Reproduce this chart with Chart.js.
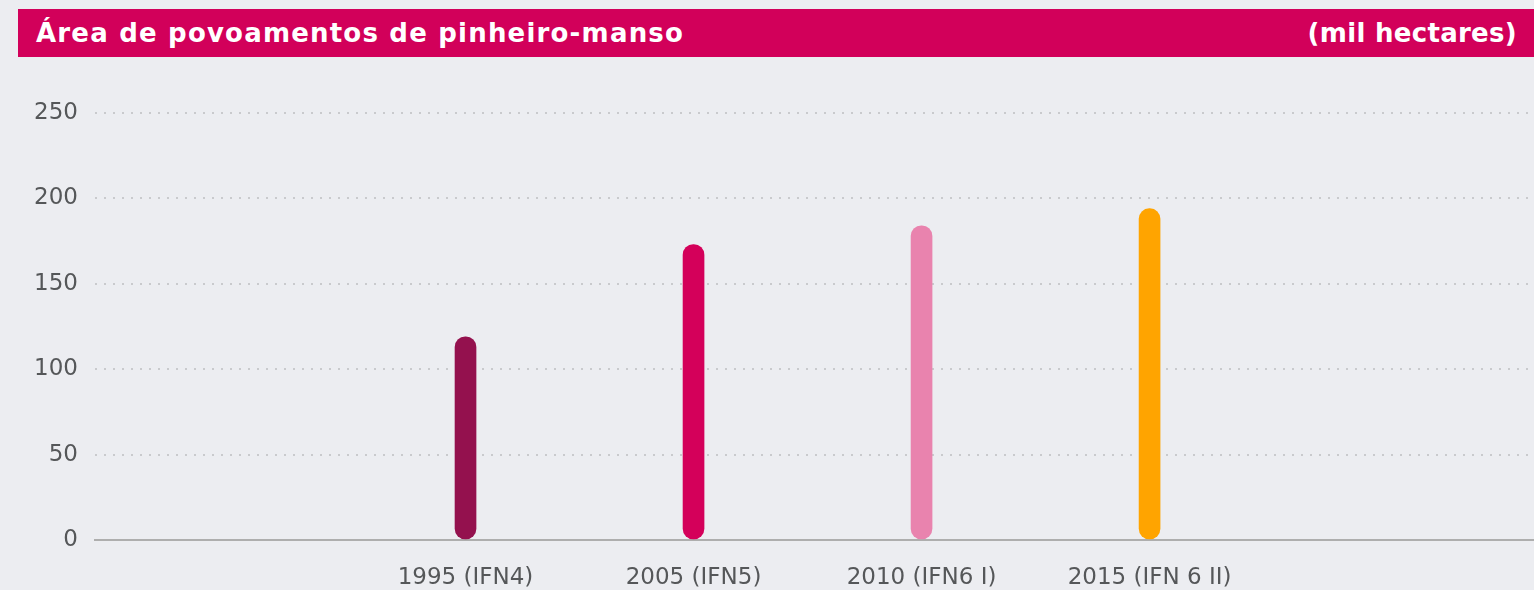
<!DOCTYPE html>
<html lang="pt">
<head>
<meta charset="utf-8">
<script src="https://cdn.jsdelivr.net/npm/chart.js@4.4.1/dist/chart.umd.min.js"></script>
<style>
  html, body { margin: 0; padding: 0; background: #ecedf1; }
  body { width: 1534px; height: 590px; position: relative; overflow: hidden; font-family: "DejaVu Sans", sans-serif; }
  .header {
    position: absolute; left: 18px; top: 9px; width: 1516px; height: 48px;
    background: #d2005a; color: #fff; font-weight: 700; font-size: 26px;
    box-sizing: border-box; padding: 0 17px 0 18px;
    display: flex; justify-content: space-between; align-items: center;
  }
  .header .title { letter-spacing: 1.2px; }
  .header .unit { letter-spacing: 0.3px; }
  #wrap { position: absolute; left: 0; top: 0; width: 1534px; height: 590px; }
</style>
</head>
<body>
<div class="header"><span class="title">Área de povoamentos de pinheiro-manso</span><span class="unit">(mil hectares)</span></div>
<div id="wrap"><canvas id="chart"></canvas></div>
<script>
const categories = ['1995 (IFN4)', '2005 (IFN5)', '2010 (IFN6 I)', '2015 (IFN 6 II)'];
const values = [119, 173, 184, 194];
const barColors = ['#94114e', '#d4005a', '#e983ae', '#ffa400'];
const yTicks = [0, 50, 100, 150, 200, 250];

const ctx = document.getElementById('chart').getContext('2d');
const chart = new Chart(ctx, {
  type: 'bar',
  data: {
    datasets: [{
      data: values.map((v, i) => ({ x: i, y: v })),
      backgroundColor: barColors,
      barThickness: 21,
      borderRadius: 11,
      borderSkipped: false
    }]
  },
  options: {
    responsive: true,
    maintainAspectRatio: false,
    animation: false,
    layout: { padding: { top: 113, left: 0, right: 0, bottom: 0 } },
    plugins: { legend: { display: false }, tooltip: { enabled: false } },
    scales: {
      x: {
        type: 'linear',
        offset: false,
        min: -1.625,
        max: 4.686,
        afterBuildTicks: (scale) => { scale.ticks = categories.map((c, i) => ({ value: i })); },
        afterFit: (scale) => { scale.height = 50; },
        ticks: {
          callback: (v) => categories[v],
          color: '#555759',
          font: { family: 'DejaVu Sans', size: 23 },
          padding: 24,
          maxRotation: 0,
          autoSkip: false
        },
        grid: { display: false, drawTicks: false, offset: false },
        border: { display: true, color: '#aeaeae', width: 2 }
      },
      y: {
        min: 0,
        max: 250,
        afterBuildTicks: (scale) => { scale.ticks = yTicks.map(v => ({ value: v })); },
        afterFit: (scale) => { scale.width = 95; },
        ticks: {
          color: '#555759',
          font: { family: 'DejaVu Sans', size: 23 },
          padding: 17
        },
        grid: { color: '#c9cacd', lineWidth: 2, drawTicks: false, tickLength: 0 },
        border: { display: false, dash: [2, 7] }
      }
    }
  }
});
</script>
</body>
</html>
